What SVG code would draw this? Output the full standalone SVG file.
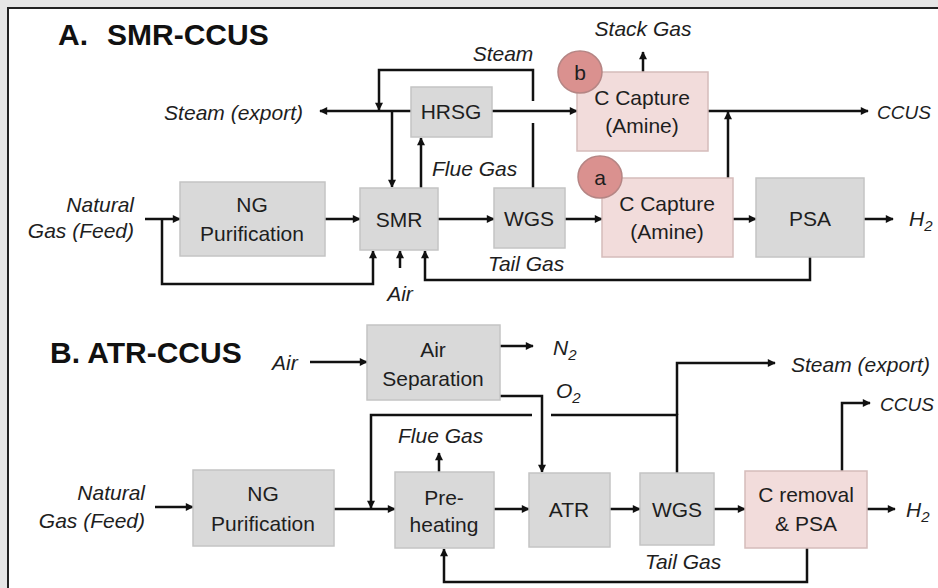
<svg xmlns="http://www.w3.org/2000/svg" width="938" height="588" viewBox="0 0 938 588">
<style>
.box{fill:#d9d9d9;stroke:#c4c4c4;stroke-width:1.5}
.pink{fill:#f2dcdb;stroke:#d5bcbb;stroke-width:1.5}
.dot{fill:#da918f;stroke:#b58584;stroke-width:1.5}
.t{font-family:"Liberation Sans",Arial,sans-serif;font-size:21px;fill:#1e1e1e;text-anchor:middle}
.i{font-family:"Liberation Sans",Arial,sans-serif;font-size:21px;font-style:italic;fill:#1e1e1e}
.s{font-size:19px}
.h{font-family:"Liberation Sans",Arial,sans-serif;font-size:30px;font-weight:bold;fill:#111}
.c{fill:none;stroke:#111;stroke-width:2.5}
.a{marker-end:url(#ah)}
</style>
<defs>
<marker id="ah" viewBox="0 0 10 10" refX="9" refY="5" markerWidth="9" markerHeight="8" markerUnits="userSpaceOnUse" orient="auto">
<path d="M0,0 L10,5 L0,10 z" fill="#111"/>
</marker>
</defs>
<rect x="0" y="0" width="938" height="588" fill="#e6e6e6"/>
<rect x="8" y="8" width="940" height="590" fill="#ffffff" stroke="#222" stroke-width="2"/>

<text class="h" x="58" y="45">A.<tspan x="107">SMR-CCUS</tspan></text>
<text class="h" x="50" y="363">B. ATR-CCUS</text>

<g id="connectors">
<!-- A -->
<path class="c a" d="M145,219 H180"/>
<path class="c a" d="M162,219 V284 H373 V251"/>
<path class="c a" d="M325,219 H360"/>
<path class="c a" d="M400,268 V251"/>
<path class="c a" d="M810,257 V280 H425 V251"/>
<path class="c a" d="M438,219 H494"/>
<path class="c a" d="M565,219 H602"/>
<path class="c a" d="M733,219 H756"/>
<path class="c a" d="M864,219 H893"/>
<path class="c a" d="M728,178 V112"/>
<path class="c a" d="M708,111 H868"/>
<path class="c a" d="M643,72 V52"/>
<path class="c a" d="M492,111 H577"/>
<path class="c" d="M533,188 V123"/>
<path class="c a" d="M533,101 V70 H379 V110"/>
<path class="c a" d="M411,111 H320"/>
<path class="c a" d="M392,111 V187"/>
<path class="c a" d="M421,188 V138"/>
<!-- B -->
<path class="c a" d="M310,362 H367"/>
<path class="c a" d="M500,346 H533"/>
<path class="c a" d="M500,396 H542 V472"/>
<path class="c a" d="M155,507 H193"/>
<path class="c a" d="M334,509 H395"/>
<path class="c" d="M677,473 V415 H551"/>
<path class="c a" d="M532,415 H371 V508"/>
<path class="c a" d="M677,415 V363 H775"/>
<path class="c a" d="M439,472 V453"/>
<path class="c a" d="M494,509 H529"/>
<path class="c a" d="M610,509 H640"/>
<path class="c a" d="M714,509 H745"/>
<path class="c a" d="M842,471 V403 H870"/>
<path class="c a" d="M867,509 H895"/>
<path class="c a" d="M807,548 V582 H444 V549"/>
</g>

<!-- Section A nodes -->
<g id="a-ngpur"><rect class="box" x="180" y="182" width="145" height="74"/><text class="t" x="252" y="212">NG</text><text class="t" x="252" y="241">Purification</text></g>
<g id="a-smr"><rect class="box" x="360" y="188" width="78" height="62"/><text class="t" x="399" y="227">SMR</text></g>
<g id="a-hrsg"><rect class="box" x="411" y="87" width="81" height="50"/><text class="t" x="451" y="119">HRSG</text></g>
<g id="a-wgs"><rect class="box" x="494" y="188" width="71" height="60"/><text class="t" x="529" y="226">WGS</text></g>
<g id="a-capb"><rect class="pink" x="577" y="72" width="131" height="79"/><text class="t" x="642" y="105">C Capture</text><text class="t" x="642" y="133">(Amine)</text></g>
<g id="a-capa"><rect class="pink" x="602" y="178" width="131" height="79"/><text class="t" x="667" y="211">C Capture</text><text class="t" x="667" y="239">(Amine)</text></g>
<g id="a-psa"><rect class="box" x="756" y="178" width="108" height="79"/><text class="t" x="810" y="226">PSA</text></g>
<g id="a-mark-b"><ellipse class="dot" cx="580" cy="72" rx="22" ry="21"/><text class="t" x="580" y="80">b</text></g>
<g id="a-mark-a"><ellipse class="dot" cx="600" cy="177" rx="22" ry="21"/><text class="t" x="600" y="185">a</text></g>

<g id="a-labels">
<text class="i" x="134" y="212" text-anchor="end">Natural</text>
<text class="i" x="134" y="238" text-anchor="end">Gas (Feed)</text>
<text class="i" x="303" y="120" text-anchor="end">Steam (export)</text>
<text class="i" x="503" y="61" text-anchor="middle">Steam</text>
<text class="i" x="643" y="36" text-anchor="middle">Stack Gas</text>
<text class="i" x="432" y="176">Flue Gas</text>
<text class="i" x="488" y="271">Tail Gas</text>
<text class="i" x="400" y="301" text-anchor="middle">Air</text>
<text class="i s" x="877" y="119">CCUS</text>
<text class="i" x="909" y="226">H<tspan font-size="15" dy="5">2</tspan></text>
</g>

<!-- Section B nodes -->
<g id="b-airsep"><rect class="box" x="367" y="325" width="133" height="75"/><text class="t" x="433" y="357">Air</text><text class="t" x="433" y="386">Separation</text></g>
<g id="b-ngpur"><rect class="box" x="193" y="470" width="141" height="76"/><text class="t" x="263" y="501">NG</text><text class="t" x="263" y="531">Purification</text></g>
<g id="b-preheat"><rect class="box" x="395" y="472" width="99" height="76"/><text class="t" x="444" y="505">Pre-</text><text class="t" x="444" y="532">heating</text></g>
<g id="b-atr"><rect class="box" x="529" y="473" width="81" height="74"/><text class="t" x="569" y="517">ATR</text></g>
<g id="b-wgs"><rect class="box" x="640" y="473" width="74" height="72"/><text class="t" x="677" y="517">WGS</text></g>
<g id="b-crem"><rect class="pink" x="745" y="471" width="122" height="77"/><text class="t" x="806" y="502">C removal</text><text class="t" x="806" y="531">&amp; PSA</text></g>

<g id="b-labels">
<text class="i" x="272" y="370">Air</text>
<text class="i" x="553" y="355">N<tspan font-size="15" dy="5">2</tspan></text>
<text class="i" x="556" y="398">O<tspan font-size="15" dy="5">2</tspan></text>
<text class="i" x="791" y="372">Steam (export)</text>
<text class="i s" x="880" y="411">CCUS</text>
<text class="i" x="906" y="517">H<tspan font-size="15" dy="5">2</tspan></text>
<text class="i" x="398" y="443">Flue Gas</text>
<text class="i" x="645" y="569">Tail Gas</text>
<text class="i" x="145" y="500" text-anchor="end">Natural</text>
<text class="i" x="145" y="528" text-anchor="end">Gas (Feed)</text>
</g>
</svg>
